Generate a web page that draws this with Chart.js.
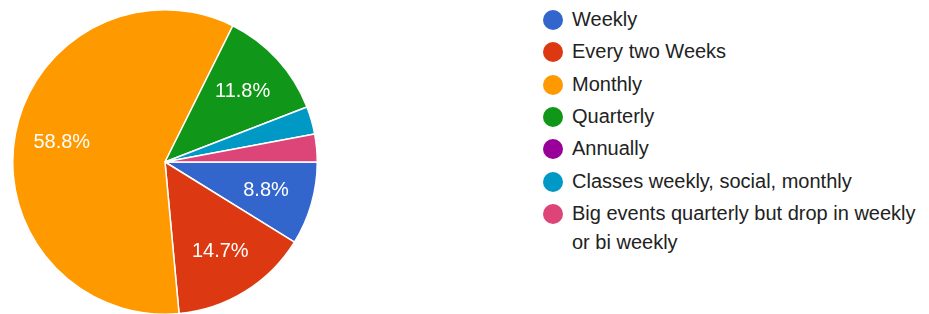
<!DOCTYPE html>
<html>
<head>
<meta charset="utf-8">
<script src="https://cdn.jsdelivr.net/npm/chart.js@4.4.1/dist/chart.umd.min.js"></script>
<style>
  html, body { margin:0; padding:0; background:#fff; width:929px; height:314px; overflow:hidden; }
  #pieBox { position:absolute; left:0; top:0; width:330px; height:316px; }
  #legend { position:absolute; left:0; top:0; font-family:"Liberation Sans", Arial, sans-serif; font-size:20px; color:#222; }
  .item { position:absolute; left:543px; width:390px; }
  .dot { position:absolute; left:0; top:0; width:20px; height:20px; border-radius:50%; }
  .txt { position:absolute; left:29px; top:-5px; width:352px; line-height:29px; }
</style>
</head>
<body>
<div id="pieBox"><canvas id="pie"></canvas></div>
<div id="legend"></div>
<script>
var labels = ["Weekly", "Every two Weeks", "Monthly", "Quarterly", "Annually", "Classes weekly, social, monthly", "Big events quarterly but drop in weekly or bi weekly"];
var counts = [3, 5, 20, 4, 0, 1, 1];
var colors = ["#3366cc", "#dc3912", "#ff9900", "#109618", "#990099", "#0099c6", "#dd4477"];

var total = 0;
for (var i = 0; i < counts.length; i++) total = total + counts[i];

// percent text inside the bigger slices
var pctLabels = {
    id: 'pctLabels',
    afterDatasetsDraw: function(chart) {
        var ctx = chart.ctx;
        var meta = chart.getDatasetMeta(0);
        ctx.save();
        ctx.fillStyle = '#fff';
        ctx.font = '20px "Liberation Sans", Arial, sans-serif';
        ctx.textAlign = 'center';
        ctx.textBaseline = 'middle';
        for (var i = 0; i < meta.data.length; i++) {
            var pct = counts[i] / total * 100;
            if (pct < 5) continue;
            var arc = meta.data[i].getProps(['x', 'y', 'startAngle', 'endAngle', 'outerRadius']);
            var mid = (arc.startAngle + arc.endAngle) / 2;
            var r = arc.outerRadius * 0.69;
            ctx.fillText(pct.toFixed(1) + '%', arc.x + Math.cos(mid) * r, arc.y + Math.sin(mid) * r);
        }
        ctx.restore();
    }
};

var ctx1 = document.getElementById("pie").getContext("2d");
new Chart(ctx1, {
    type: 'pie',
    data: {
        labels: labels,
        datasets: [{
            data: counts,
            backgroundColor: colors,
            borderColor: '#fff',
            borderWidth: 1.5
        }]
    },
    options: {
        responsive: true,
        maintainAspectRatio: false,
        animation: false,
        events: [],
        rotation: 90,
        layout: { padding: { top: 9, bottom: 1, left: 0, right: 0 } },
        plugins: {
            legend: { display: false },
            tooltip: { enabled: false }
        }
    },
    plugins: [pctLabels]
});

// html legend
var legend = document.getElementById("legend");
var str = '';
for (var i = 0; i < labels.length; i++) {
    var rowY = 10 + i * 32.3;
    str += '<div class="item" style="top:' + rowY + 'px">' +
           '<span class="dot" style="background:' + colors[i] + '"></span>' +
           '<span class="txt">' + labels[i] + '</span></div>';
}
legend.innerHTML = str;
</script>
</body>
</html>
